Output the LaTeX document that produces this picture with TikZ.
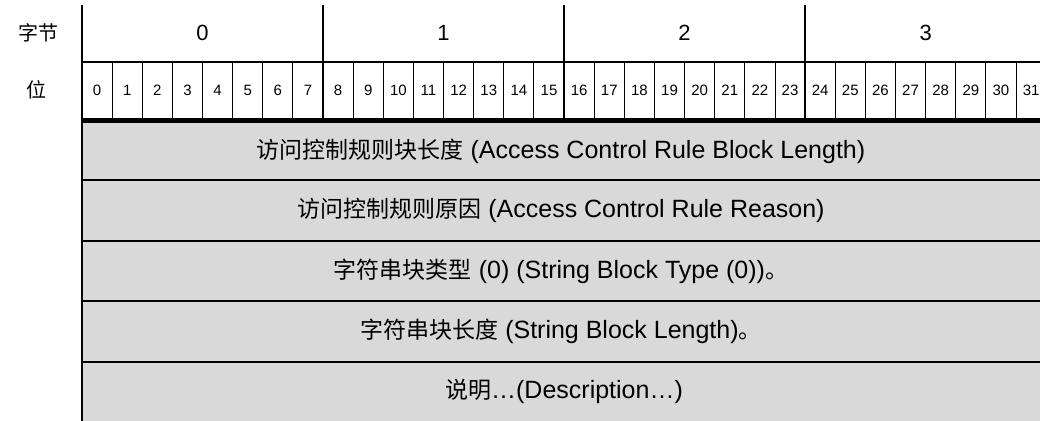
\documentclass[tikz,border=0pt]{standalone}
\usepackage{fontspec}
\setmainfont{Liberation Sans}
\newfontfamily\cjk{Noto Sans CJK SC}
\usetikzlibrary{positioning}
\def\bitw{30.13}
\newcommand\zh[1]{{\cjk\fontsize{23}{27}\selectfont #1}}

\begin{document}
\begin{tikzpicture}[x=1pt,y=-1pt,line width=2pt]
    \tikzstyle{field}=[fill=black!15, draw=black, line width=2pt]
    \tikzstyle{bit label}=[font=\fontsize{15}{17}\selectfont, inner sep=0pt]
    \tikzstyle{byte label}=[font=\fontsize{22}{24}\selectfont, inner sep=0pt]
    \tikzstyle{row label}=[font=\fontsize{25}{27}\selectfont, inner sep=0pt]
    \tikzstyle{side label}=[font=\fontsize{20}{22}\selectfont\cjk, inner sep=0pt]

    \useasboundingbox (0,0) rectangle (1040,420);
    \clip (0,0) rectangle (1040,420);

    % Draw the gray field rows
    \foreach \top/\bot in {122/180,180/241,241/301,301/362,362/440}
        \draw[field] (82,\top) rectangle (1070,\bot);

    % Draw the header lines
    \draw (82,62) -- (1070,62);
    \draw[line width=5pt] (82,120) -- (1070,120);
    \foreach \i in {1,...,32}
        \draw[line width=1pt] (82+\i*\bitw,62) -- (82+\i*\bitw,118);
    \foreach \b in {1,2,3}
        \draw (82+\b*8*\bitw,5) -- (82+\b*8*\bitw,118);
    \draw (82,5) -- (82,420);

    % Side labels
    \node[side label] (byte) at (38,33) {字节};
    \node[side label] (bit) at (37,90) {位};

    % Byte and bit numbers
    \foreach \b in {0,...,3}
        \node[byte label] (B-\b) at (82+\b*8*\bitw+4*\bitw,33) {\b};
    \foreach \i in {0,...,31}
        \node[bit label] (I-\i) at (82+\i*\bitw+0.5*\bitw,90) {\i};

    % Field texts
    \node[row label] (R-1) at (561,151) {\zh{访问控制规则块长度} (Access Control Rule Block Length)};
    \node[row label] (R-2) at (561,210) {\zh{访问控制规则原因} (Access Control Rule Reason)};
    \node[row label] (R-3) at (561,271) {\zh{字符串块类型} (0) (String Block Type (0))\zh{。}};
    \node[row label] (R-4) at (561,331) {\zh{字符串块长度} (String Block Length)\zh{。}};
    \node[row label] (R-5) at (564,391) {\zh{说明}…(Description…)};
\end{tikzpicture}
\end{document}
